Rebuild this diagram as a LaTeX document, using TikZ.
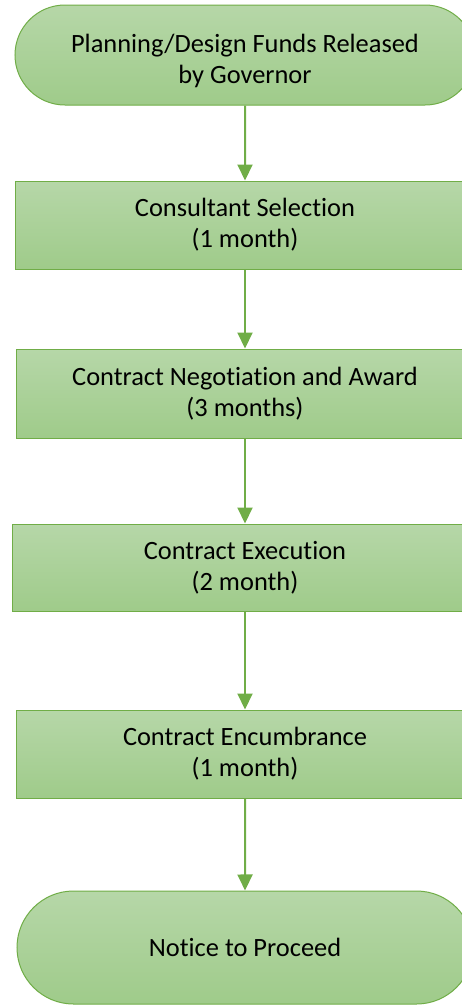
\documentclass[tikz,border=0pt]{standalone}
\usepackage{fontspec}
\setmainfont{Carlito}[Ligatures=NoCommon]
\usetikzlibrary{shapes.misc,arrows.meta}
\definecolor{gborder}{HTML}{70AD47}
\definecolor{gtop}{HTML}{B6D7A8}
\definecolor{gbot}{HTML}{9FCB8A}
\tikzset{
  base/.style={draw=gborder, line width=1pt, top color=gtop, bottom color=gbot,
    inner sep=0pt, align=center, font=\fontsize{26.4}{31}\selectfont, text=black},
  procbox/.style={base, rectangle, minimum height=88pt},
  termbox/.style={base, rounded rectangle, rounded rectangle arc length=180},
  flow/.style={draw=gborder, line width=2pt, -{Triangle[width=15pt,length=16pt]}}
}
\begin{document}
\begin{tikzpicture}[x=1pt,y=-1pt]
\useasboundingbox (0,0) rectangle (462,1005);
\clip (0,0) rectangle (462,1005);
\node[termbox, minimum width=460pt, minimum height=100pt] (t1) at (245,55) {\rule{0pt}{30pt}Planning/Design Funds Released\\by Governor};
\node[procbox, minimum width=460pt] (b1) at (245,225) {Consultant Selection\\(1 month)};
\node[procbox, minimum width=458pt, minimum height=89pt] (b2) at (245,393.5) {Contract Negotiation and Award\\(3 months)};
\node[procbox, minimum width=466pt, minimum height=87pt] (b3) at (245,567.5) {Contract Execution\\(2 month)};
\node[procbox, minimum width=458pt] (b4) at (245,754) {Contract Encumbrance\\(1 month)};
\node[termbox, minimum width=456pt, minimum height=113pt] (t2) at (245,947.5) {Notice to Proceed};
\draw[flow] (t1) -- (b1);
\draw[flow] (b1) -- (b2);
\draw[flow] (b2) -- (b3);
\draw[flow] (b3) -- (b4);
\draw[flow] (b4) -- (t2);
\end{tikzpicture}
\end{document}
